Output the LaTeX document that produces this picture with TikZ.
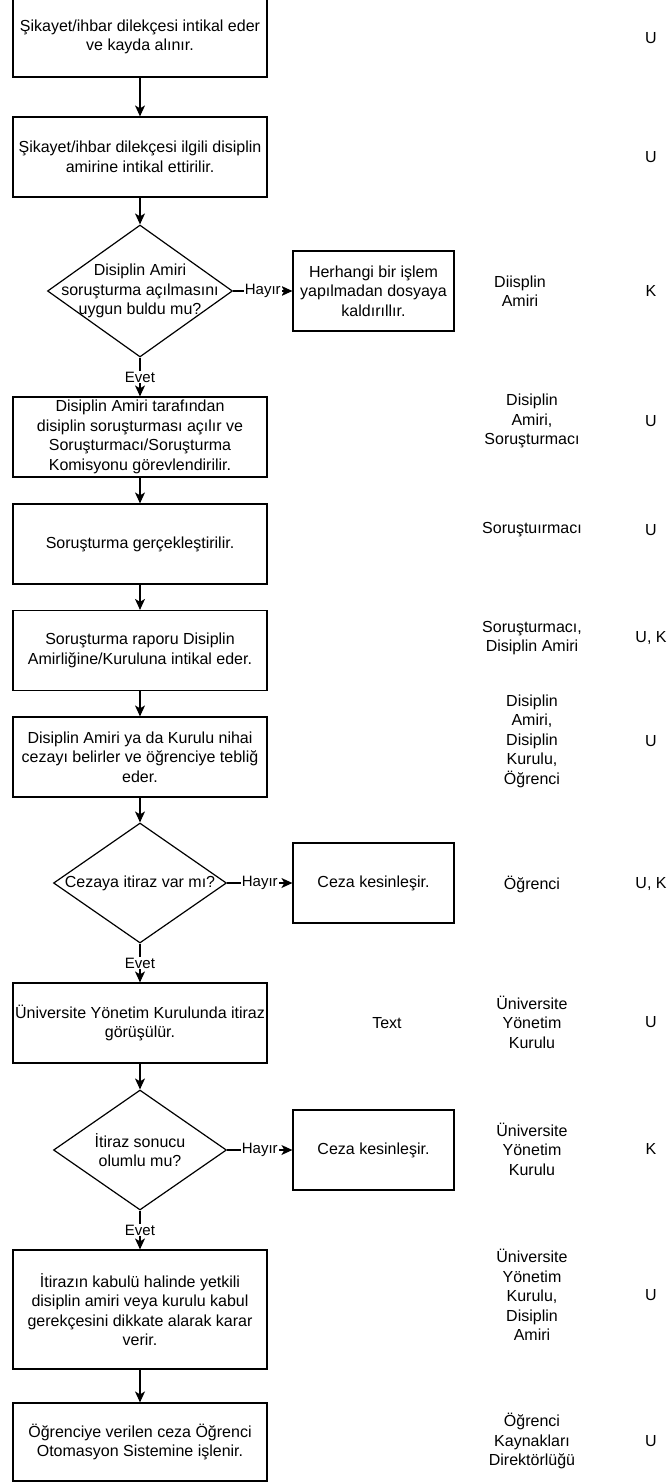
\documentclass[tikz,border=0pt]{standalone}
\usepackage{fontspec}
\setmainfont{Liberation Sans}
\usetikzlibrary{shapes.geometric,arrows.meta}
\begin{document}
\begin{tikzpicture}[x=1pt,y=-1pt,
  every node/.style={font=\fontsize{16}{19.5}\selectfont, text=black},
  box/.style={draw=black, line width=1.2pt, minimum width=254pt, minimum height=80pt, align=center, inner sep=0pt},
  sidebox/.style={box, minimum width=161pt},
  dec/.style={draw=black, diamond, line width=1.2pt, inner sep=0pt},
  txt/.style={align=center, inner sep=0pt},
  lbl/.style={font=\fontsize{15}{17}\selectfont, fill=white, inner sep=1pt},
  flow/.style={line width=1.2pt, -{Stealth[length=11pt,width=10pt,inset=3pt]}}
]
\useasboundingbox (0,0) rectangle (670,1482);

% main column
\node[box] (b1) at (140,37) {Şikayet/ihbar dilekçesi intikal eder\\ve kayda alınır.};
\node[box] (b2) at (140,157) {Şikayet/ihbar dilekçesi ilgili disiplin\\amirine intikal ettirilir.};
\node[dec, minimum width=185pt, minimum height=132pt] (d1) at (140,291) {};
\node[txt] (d1t) at (d1.center) {Disiplin Amiri\\soruşturma açılmasını\\uygun buldu mu?};
\node[sidebox] (s1) at (373.5,291) {Herhangi bir işlem\\yapılmadan dosyaya\\kaldırıllır.};
\node[box] (b3) at (140,437) {Disiplin Amiri tarafından\\disiplin soruşturması açılır ve\\Soruşturmacı/Soruşturma\\Komisyonu görevlendirilir.};
\node[box] (b4) at (140,544) {Soruşturma gerçekleştirilir.};
\node[box] (b5) at (140,650.5) {Soruşturma raporu Disiplin\\Amirliğine/Kuruluna intikal eder.};
\node[box] (b6) at (140,757) {Disiplin Amiri ya da Kurulu nihai\\cezayı belirler ve öğrenciye tebliğ\\eder.};
\node[dec, minimum width=173pt, minimum height=120pt] (d2) at (140,883) {};
\node[txt] (d2t) at (d2.center) {Cezaya itiraz var mı?};
\node[sidebox] (s2) at (373.5,883) {Ceza kesinleşir.};
\node[box] (b7) at (140,1023) {Üniversite Yönetim Kurulunda itiraz\\görüşülür.};
\node[dec, minimum width=173pt, minimum height=120pt] (d3) at (140,1150) {};
\node[txt] (d3t) at (d3.center) {İtiraz sonucu\\olumlu mu?};
\node[sidebox] (s3) at (373.5,1150) {Ceza kesinleşir.};
\node[box, minimum height=119pt] (b8) at (140,1309.5) {İtirazın kabulü halinde yetkili\\disiplin amiri veya kurulu kabul\\gerekçesini dikkate alarak karar\\verir.};
\node[box, minimum height=78pt] (b9) at (140,1442) {Öğrenciye verilen ceza Öğrenci\\Otomasyon Sistemine işlenir.};

% connectors
\draw[flow] (b1) -- (b2);
\draw[flow] (b2) -- (d1);
\draw[flow] (d1) -- node[lbl] (l1) {Hayır} (s1);
\draw[flow] (d1) -- node[lbl] (l2) {Evet} (b3);
\draw[flow] (b3) -- (b4);
\draw[flow] (b4) -- (b5);
\draw[flow] (b5) -- (b6);
\draw[flow] (b6) -- (d2);
\draw[flow] (d2) -- node[lbl] (l3) {Hayır} (s2);
\draw[flow] (d2) -- node[lbl] (l4) {Evet} (b7);
\draw[flow] (b7) -- (d3);
\draw[flow] (d3) -- node[lbl] (l5) {Hayır} (s3);
\draw[flow] (d3) -- node[lbl] (l6) {Evet} (b8);
\draw[flow] (b8) -- (b9);

% free text
\node[txt] (tx) at (387,1023) {Text};

% responsible column
\node[txt] (r3) at (520,291) {Diisplin\\Amiri};
\node[txt] (r4) at (532,421) {Disiplin\\Amiri,\\Soruşturmacı};
\node[txt] (r5) at (532,530) {Soruştuırmacı};
\node[txt] (r6) at (532,638) {Soruşturmacı,\\Disiplin Amiri};
\node[txt] (r7) at (532,741) {Disiplin\\Amiri,\\Disiplin\\Kurulu,\\Öğrenci};
\node[txt] (r8) at (532,884) {Öğrenci};
\node[txt] (r9) at (532,1022) {Üniversite\\Yönetim\\Kurulu};
\node[txt] (r10) at (532,1149) {Üniversite\\Yönetim\\Kurulu};
\node[txt] (r11) at (532,1295) {Üniversite\\Yönetim\\Kurulu,\\Disiplin\\Amiri};
\node[txt] (r12) at (532,1441) {Öğrenci\\Kaynakları\\Direktörlüğü};

% code column
\node[txt] (c1) at (651,38) {U};
\node[txt] (c2) at (651,157) {U};
\node[txt] (c3) at (651,291) {K};
\node[txt] (c4) at (651,421) {U};
\node[txt] (c5) at (651,530) {U};
\node[txt] (c6) at (651,638) {U, K};
\node[txt] (c7) at (651,741) {U};
\node[txt] (c8) at (651,884) {U, K};
\node[txt] (c9) at (651,1022) {U};
\node[txt] (c10) at (651,1149) {K};
\node[txt] (c11) at (651,1295) {U};
\node[txt] (c12) at (651,1441) {U};
\end{tikzpicture}
\end{document}
